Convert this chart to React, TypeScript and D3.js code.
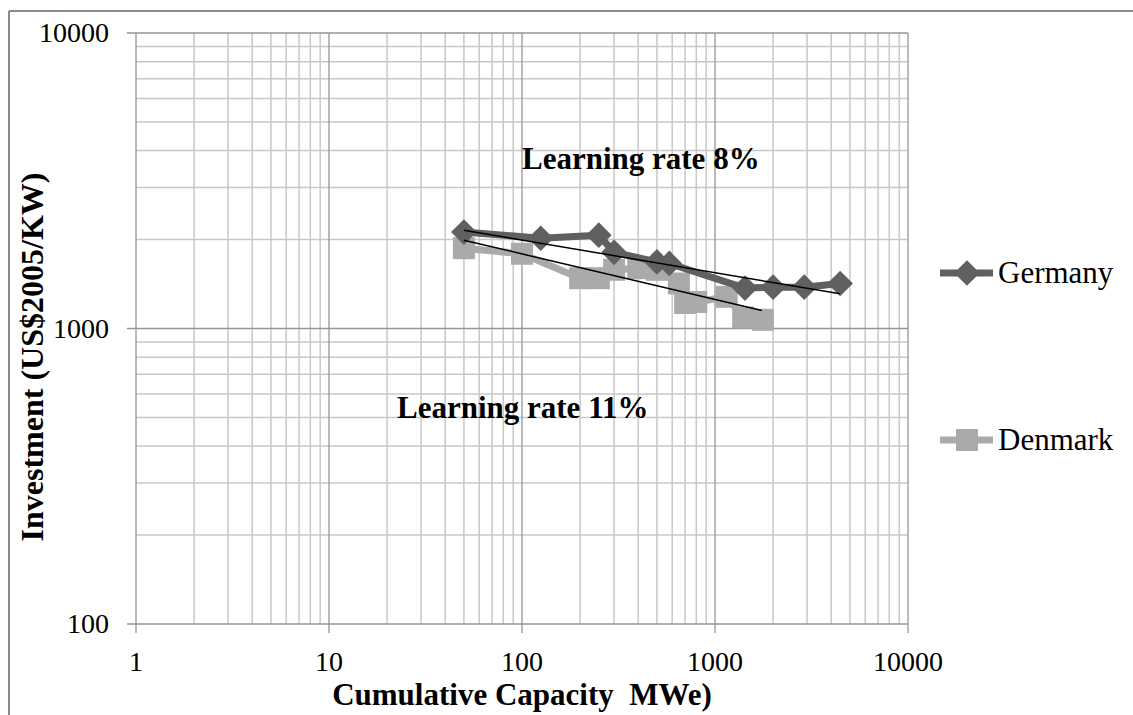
import React from "react";
import * as d3 from "d3";

const germany: [number, number][] = [
  [50, 2120], [125, 2020], [250, 2070], [300, 1810], [500, 1680], [580, 1660],
  [1430, 1370], [2000, 1380], [2900, 1380], [4450, 1420],
];
const denmark: [number, number][] = [
  [50, 1870], [100, 1790], [200, 1480], [250, 1480], [300, 1580], [400, 1600],
  [500, 1580], [650, 1420], [700, 1220], [800, 1230], [1150, 1280], [1400, 1090], [1770, 1070],
];
const germanyTrend: [number, number][] = [[50, 2150], [4450, 1310]];
const denmarkTrend: [number, number][] = [[50, 1990], [1750, 1150]];
const xTicks = [1, 10, 100, 1000, 10000];
const yTicks = [100, 1000, 10000];
const labels = [
  { text: "Learning rate 8%", x: 522, y: 169 },
  { text: "Learning rate 11%", x: 397, y: 418 },
];

const W = 1133, H = 715;
const L = 136, R = 908, T = 33, B = 624;
const FONT = "'Liberation Serif', 'Times New Roman', serif";

export default function App() {
  const x = d3.scaleLog().domain([1, 10000]).range([L, R]);
  const y = d3.scaleLog().domain([100, 10000]).range([B, T]);
  const line = d3.line<[number, number]>().x(d => x(d[0])).y(d => y(d[1]));

  const minorX: number[] = [];
  for (let d = 1; d < 10000; d *= 10) for (let k = 2; k <= 9; k++) minorX.push(d * k);
  const minorY: number[] = [];
  for (let d = 100; d < 10000; d *= 10) for (let k = 2; k <= 9; k++) minorY.push(d * k);

  const diamond = d3.symbol().type(d3.symbolDiamond2).size(420)();
  const sq = 22;
  const cGer = "#606060", cDen = "#aaaaaa";

  return (
    <svg width={W} height={H} style={{ position: "absolute", left: 0, top: 0, background: "#fff" }}>
      <rect x={0} y={0} width={W} height={H} fill="#fff" />
      <line x1={9} y1={11} x2={W} y2={11} stroke="#8a8a8a" strokeWidth={2} />
      <line x1={9} y1={11} x2={9} y2={H} stroke="#8a8a8a" strokeWidth={2} />
      {minorX.map(v => (
        <line key={"mx" + v} x1={x(v)} x2={x(v)} y1={T} y2={B} stroke="#c8c8c8" strokeWidth={1.5} />
      ))}
      {minorY.map(v => (
        <line key={"my" + v} x1={L} x2={R} y1={y(v)} y2={y(v)} stroke="#c8c8c8" strokeWidth={1.5} />
      ))}
      {xTicks.map(v => (
        <line key={"Mx" + v} x1={x(v)} x2={x(v)} y1={T} y2={B + 9} stroke="#959595" strokeWidth={1.3} />
      ))}
      {yTicks.map(v => (
        <line key={"My" + v} x1={L - 9} x2={R} y1={y(v)} y2={y(v)} stroke="#959595" strokeWidth={1.3} />
      ))}
      {xTicks.map(v => (
        <text key={"tx" + v} x={x(v)} y={671} textAnchor="middle" fontFamily={FONT} fontSize={28} fill="#000">
          {v}
        </text>
      ))}
      {yTicks.map(v => (
        <text key={"ty" + v} x={109} y={y(v) + 9} textAnchor="end" fontFamily={FONT} fontSize={28} fill="#000">
          {v}
        </text>
      ))}
      <text x={522} y={705} textAnchor="middle" fontFamily={FONT} fontSize={31} fontWeight="bold" style={{ whiteSpace: "pre" }}>
        {"Cumulative Capacity  MWe)"}
      </text>
      <text transform={`translate(43,357) rotate(-90)`} textAnchor="middle" fontFamily={FONT} fontSize={32} fontWeight="bold">
        Investment (US$2005/KW)
      </text>

      <path d={line(denmark) || ""} fill="none" stroke={cDen} strokeWidth={7} strokeLinejoin="round" />
      {denmark.map((d, i) => (
        <rect key={"dn" + i} x={x(d[0]) - sq / 2} y={y(d[1]) - sq / 2} width={sq} height={sq} fill={cDen} />
      ))}
      <path d={line(germany) || ""} fill="none" stroke={cGer} strokeWidth={7} strokeLinejoin="round" />
      {germany.map((d, i) => (
        <path key={"gr" + i} d={diamond || ""} transform={`translate(${x(d[0])},${y(d[1])})`} fill={cGer} />
      ))}
      <path d={line(germanyTrend) || ""} fill="none" stroke="#000" strokeWidth={1.5} />
      <path d={line(denmarkTrend) || ""} fill="none" stroke="#000" strokeWidth={1.5} />

      {labels.map(l => (
        <text key={l.text} x={l.x} y={l.y} fontFamily={FONT} fontSize={31} fontWeight="bold">
          {l.text}
        </text>
      ))}

      <line x1={940} x2={993} y1={273} y2={273} stroke={cGer} strokeWidth={7} />
      <path d={diamond || ""} transform="translate(967,273)" fill={cGer} />
      <text x={998} y={283} fontFamily={FONT} fontSize={31}>Germany</text>
      <line x1={940} x2={993} y1={440} y2={440} stroke={cDen} strokeWidth={7} />
      <rect x={967 - sq / 2} y={440 - sq / 2} width={sq} height={sq} fill={cDen} />
      <text x={998} y={450} fontFamily={FONT} fontSize={31}>Denmark</text>
    </svg>
  );
}
